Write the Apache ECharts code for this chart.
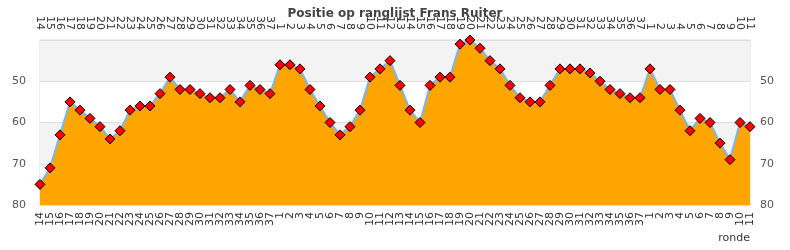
<!DOCTYPE html>
<html><head><meta charset="utf-8">
<script src="https://cdn.jsdelivr.net/npm/echarts@6/dist/echarts.min.js"></script>
<style>html,body{margin:0;padding:0;background:#fff}#c{width:790px;height:250px}</style>
</head><body><div id="c"></div>
<script>
var rounds = ['14','15','16','17','18','19','20','21','22','23','24','25','26','27','28','29','30','31','32','33','34','35','36','37',
 '1','2','3','4','5','6','7','8','9','10','11','12','13','14','15','16','17','18','19','20','21','22','23','24','25','26','27','28','29','30','31','32','33','34','35','36','37',
 '1','2','3','4','5','6','7','8','9','10','11'];
var positions = [75,71,63,55,57,59,61,64,62,57,56,56,53,49,52,52,53,54,54,52,55,51,52,53,
 46,46,47,52,56,60,63,61,57,49,47,45,51,57,60,51,49,49,41,40,42,45,47,51,54,55,55,51,47,47,47,48,50,52,53,54,54,
 47,52,52,57,62,59,60,65,69,60,61];
var yTicks = [40,50,60,70,80];
var titleText = 'Positie op ranglijst Frans Ruiter';
var xName = 'ronde';

var chart = echarts.init(document.getElementById('c'));
var font = 'DejaVu Sans';
function yAxis(pos){
  return {type:'value', position:pos, min:yTicks[0], max:yTicks[yTicks.length-1], interval:10, inverse:true,
    axisLine:{show:false}, axisTick:{show:false},
    axisLabel:{show:true, showMinLabel:false, color:'#555', fontSize:11, fontFamily:font, margin:pos==='left'?14:10},
    splitLine:{show:true, lineStyle:{color:'#ddd'}},
    splitArea:{show:pos==='left', areaStyle:{color:['#f3f3f3','#ffffff']}}};
}
function xAxis(pos){
  return {type:'category', position:pos, data:rounds, boundaryGap:false,
    axisLine:{show:true, lineStyle:{color:'#ddd'}}, axisTick:{show:false},
    axisLabel:{interval:0, rotate:90, color:'#333', fontSize:11, fontFamily:font, margin:pos==='top'?10:7}};
}
chart.setOption({
  animation:false,
  title:{text:titleText, left:'center', top:3, textStyle:{fontSize:12, fontWeight:'bold', color:'#444', fontFamily:font}},
  grid:{left:40, right:40, top:40, bottom:45, show:true, borderColor:'#ddd', borderWidth:1},
  xAxis:[xAxis('bottom'), xAxis('top')],
  yAxis:[yAxis('left'), yAxis('right')],
  series:[{type:'line', data:positions, xAxisIndex:0, yAxisIndex:0,
    symbol:'diamond', symbolSize:10,
    itemStyle:{color:'#ff0000', borderColor:'#000', borderWidth:1},
    lineStyle:{color:'#7cb5ec', width:2},
    areaStyle:{color:'#ffa500', opacity:1, origin:'end'}}],
  graphic:[{type:'text', right:40, bottom:6, style:{text:xName, fill:'#333', font:'11px DejaVu Sans'}}]
});
</script></body></html>
